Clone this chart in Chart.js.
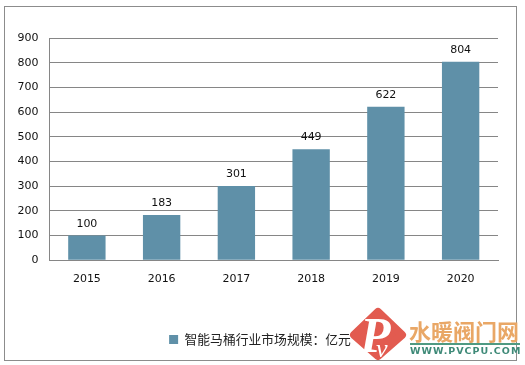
<!DOCTYPE html>
<html><head><meta charset="utf-8">
<style>html,body{margin:0;padding:0;background:#fff}#w{width:525px;height:365px;position:relative}</style>
<script src="https://cdn.jsdelivr.net/npm/chart.js@4"></script>
</head><body><div id="w"><canvas id="c" width="525" height="365"></canvas></div>
<script>
const categories = ['2015','2016','2017','2018','2019','2020'];
const marketSize = [100,183,301,449,622,804];
const seriesName = '智能马桶行业市场规模：亿元';
const yMax = 900, yStep = 100;
const FONT = '"DejaVu Sans"';
const frame = {id:'frame',beforeDraw(ch){const x=ch.ctx;x.save();x.strokeStyle='#8c8c8c';x.lineWidth=1;x.strokeRect(4.5,6.5,512,354);x.restore();}};
const labels = {id:'labels',afterDatasetsDraw(ch){const x=ch.ctx;x.save();x.font='11px '+FONT;x.fillStyle='#111';x.textAlign='center';x.textBaseline='alphabetic';
 ch.getDatasetMeta(0).data.forEach((b,i)=>x.fillText(String(marketSize[i]),b.x,b.y-9));x.restore();}};
const nudge = {id:'nudge',afterLayout(ch){const l=ch.legend;l.left+=11;l.right+=11;l.top+=5;l.bottom+=5;}};
const mark = {id:'mark',afterDraw(ch){const x=ch.ctx;x.save();x.textBaseline='alphabetic';x.textAlign='left';
 x.fillStyle='#e25b50';x.strokeStyle='#e25b50';x.lineWidth=8;x.lineJoin='round';
 x.beginPath();x.moveTo(354,335);x.lineTo(378,312);x.lineTo(402,335);x.lineTo(378,356);x.closePath();x.fill();x.stroke();
 x.fillStyle='#fff';x.font='italic bold 50px "Liberation Serif"';x.fillText('P',360,352);
 x.font='italic 26px "Liberation Serif"';x.lineWidth=2;x.strokeText('v',376,357);x.fillText('v',376,357);
 x.fillStyle='#e9a766';x.font='bold 22px "Noto Sans CJK SC"';x.fillText('水暖阀门网',409,340);
 x.fillStyle='#4f9a82';x.fillRect(410,343,110,2);
 x.fillStyle='#3f8a78';x.font='bold 9.5px "DejaVu Sans"';x.letterSpacing='1px';x.fillText('WWW.PVCPU.COM',410,354);x.restore();}};
new Chart(document.getElementById('c'),{type:'bar',
 data:{labels:categories,datasets:[{label:seriesName,data:marketSize,backgroundColor:'#5f90a8',borderWidth:0,barPercentage:0.5,categoryPercentage:1}]},
 options:{responsive:false,animation:false,
  layout:{padding:{top:38,left:0,right:27,bottom:14}},
  plugins:{tooltip:{enabled:false},legend:{position:'bottom',labels:{boxWidth:9,boxHeight:9,padding:6,color:'#222',font:{family:'"Noto Sans CJK SC"',size:12.8}}}},
  scales:{
   x:{afterFit(s){s.height=62;},grid:{display:false,drawTicks:false},border:{color:'#868686'},ticks:{padding:12,color:'#111',font:{family:FONT,size:11},maxRotation:0}},
   y:{min:0,max:yMax,afterFit(s){s.width=49.5;},grid:{color:'#868686',drawTicks:false},border:{color:'#868686'},ticks:{stepSize:yStep,padding:11,color:'#111',font:{family:FONT,size:11}}}
  }},plugins:[frame,labels,nudge,mark]});
</script></body></html>
